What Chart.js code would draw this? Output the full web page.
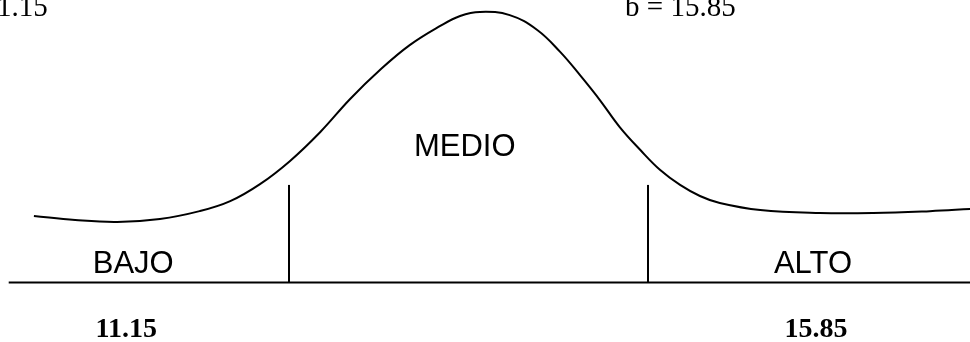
<!DOCTYPE html>
<html>
<head>
<meta charset="utf-8">
<title>BAJO MEDIO ALTO</title>
<script src="https://cdn.jsdelivr.net/npm/chart.js@4.4.1/dist/chart.umd.min.js"></script>
<style>
  html, body { margin: 0; padding: 0; background: #fff; }
  #myChart { display: block; }
</style>
</head>
<body>
<canvas id="myChart" width="970" height="342"></canvas>
<script>

// limites
var a = 11.15;
var b = 15.85;

// curva (x = puntaje, y = altura relativa)
var curveX = [7.81, 8.35, 8.90, 9.46, 9.98, 10.38, 10.77, 11.16, 11.56, 11.95, 12.34, 12.73, 13.13, 13.39, 13.65,
              14.04, 14.40, 14.70, 14.96, 15.22, 15.48, 15.75, 16.01, 16.27, 16.53, 16.79, 17.32, 18.10, 18.80, 19.54, 20.07];
var curveY = [24.6, 23.1, 22.4, 23.5, 26.4, 30.1, 36.4, 44.9, 55.7, 67.9, 78.6, 87.8, 94.9, 98.6, 100.1,
              98.9, 93.4, 85.3, 76.7, 67.5, 57.5, 49.0, 41.6, 36.1, 32.0, 29.4, 26.8, 25.7, 25.7, 26.4, 27.2];

// linea base y cortes
var baseX = [7.48, 20.07];
var cutTop = 36.1;

// textos
var zones = ['BAJO', 'MEDIO', 'ALTO'];
var limitLabels = ['11.15', '15.85'];
var topLabels = ['a = 11.15', 'b = 15.85'];

function init(){
  drawChart();
};

function toPoints(xs, ys){
  var out = [];
  for (var i = 0; i < xs.length; i++) {
    out.push({ x: xs[i], y: ys[i] });
  }
  return out;
};

// textos sobre el grafico
var textPlugin = {
  id: 'textos',
  afterDatasetsDraw: function(chart){
    var ctx = chart.ctx;
    var sx = chart.scales.x;
    var sy = chart.scales.y;

    function put(txt, x, y, font, align){
      ctx.font = font;
      ctx.textAlign = align;
      ctx.textBaseline = 'alphabetic';
      ctx.fillText(txt, sx.getPixelForValue(x), sy.getPixelForValue(y));
    }

    ctx.save();
    ctx.fillStyle = '#000';

    var sans = '31px "Liberation Sans", Arial, sans-serif';
    put(zones[0], 9.11, 3.7, sans, 'center');
    put(zones[1], 13.45, 46.8, sans, 'center');
    put(zones[2], 18.01, 3.7, sans, 'center');

    var bold = 'bold 28px "Liberation Serif", "Times New Roman", serif';
    put(limitLabels[0], 9.02, -20.1, bold, 'center');
    put(limitLabels[1], 18.05, -20.1, bold, 'center');

    var serif = '29px "Liberation Serif", "Times New Roman", serif';
    put(topLabels[0], 7.99, 98.6, serif, 'right');
    put(topLabels[1], 15.55, 98.6, serif, 'left');

    ctx.restore();
  }
};

function drawChart(){

  var ctx = document.getElementById('myChart');
  var chart = new Chart(ctx, {

      type: 'line',

      data: {
          datasets: [{
              label: 'curva',
              data: toPoints(curveX, curveY),
              borderColor: '#000',
              borderWidth: 2,
              pointRadius: 0,
              fill: false,
              tension: 0.4
          }, {
              label: 'base',
              data: toPoints(baseX, [0, 0]),
              borderColor: '#000',
              borderWidth: 2,
              pointRadius: 0,
              fill: false
          }, {
              label: 'a',
              data: toPoints([a, a], [0, cutTop]),
              borderColor: '#000',
              borderWidth: 2,
              pointRadius: 0,
              fill: false
          }, {
              label: 'b',
              data: toPoints([b, b], [0, cutTop]),
              borderColor: '#000',
              borderWidth: 2,
              pointRadius: 0,
              fill: false
          }]
      },

      options: {
          responsive: false,
          animation: false,
          events: [],
          layout: { padding: 0 },
          plugins: {
              legend: { display: false },
              tooltip: { enabled: false }
          },
          scales: {
              x: { type: 'linear', display: false, min: 7.366, max: 20.066 },
              y: { type: 'linear', display: false, min: -22, max: 104.5 }
          }
      },

      plugins: [textPlugin]
  });

};

init();

</script>
</body>
</html>
